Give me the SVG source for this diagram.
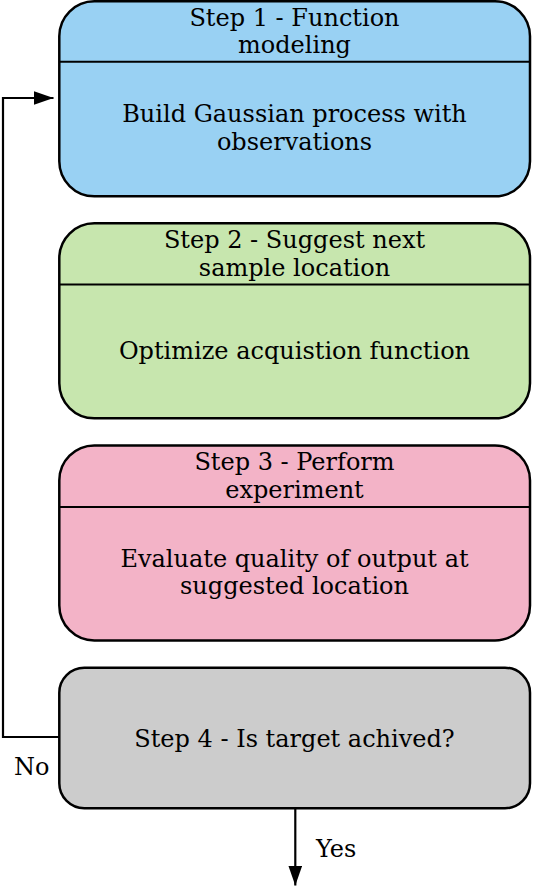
<svg xmlns="http://www.w3.org/2000/svg" width="534" height="886" viewBox="0 0 534 886">
<defs>
<style>
.box{stroke:#000;stroke-width:2.5}
.div{stroke:#000;stroke-width:2}
.t{font-family:"DejaVu Serif","Liberation Serif",serif;font-size:24px;fill:#000;text-anchor:middle}
.lbl{font-family:"DejaVu Serif","Liberation Serif",serif;font-size:24px;fill:#000}
.conn{fill:none;stroke:#000;stroke-width:2.2}
</style>
<marker id="arr" markerUnits="userSpaceOnUse" markerWidth="20" markerHeight="14" refX="20" refY="7" orient="auto">
<path d="M0,0 L20,7 L0,14 z" fill="#000"/>
</marker>
</defs>
<rect width="534" height="886" fill="#fff"/>
<g id="connectors">
<path class="conn" d="M59,737 H3 V98 H53.5" marker-end="url(#arr)"/>
<path class="conn" d="M295.3,808.3 V885.5" marker-end="url(#arr)"/>
<text class="lbl" x="14" y="775">No</text>
<text class="lbl" x="316" y="857.3">Yes</text>
</g>
<g id="step1">
<rect class="box" x="59.3" y="1.3" width="470.7" height="195" rx="35" ry="35" fill="#99d1f3"/>
<line class="div" x1="59.3" y1="61.7" x2="530" y2="61.7"/>
<text class="t" x="294.5" y="25.7">Step 1 - Function</text>
<text class="t" x="294.5" y="53.3">modeling</text>
<text class="t" x="294.5" y="122.3">Build Gaussian process with</text>
<text class="t" x="294.5" y="150">observations</text>
</g>
<g id="step2">
<rect class="box" x="59.3" y="223.3" width="470.7" height="195" rx="35" ry="35" fill="#c7e6ae"/>
<line class="div" x1="59.3" y1="284.5" x2="530" y2="284.5"/>
<text class="t" x="294.5" y="248">Step 2 - Suggest next</text>
<text class="t" x="294.5" y="275.6">sample location</text>
<text class="t" x="294.5" y="359">Optimize acquistion function</text>
</g>
<g id="step3">
<rect class="box" x="59.3" y="445.4" width="470.7" height="195" rx="35" ry="35" fill="#f3b3c7"/>
<line class="div" x1="59.3" y1="507" x2="530" y2="507"/>
<text class="t" x="294.5" y="470.1">Step 3 - Perform</text>
<text class="t" x="294.5" y="497.7">experiment</text>
<text class="t" x="294.5" y="566.7">Evaluate quality of output at</text>
<text class="t" x="294.5" y="594.4">suggested location</text>
</g>
<g id="step4">
<rect class="box" x="59.3" y="667.7" width="470.7" height="140.6" rx="25" ry="25" fill="#cccccc"/>
<text class="t" x="294.5" y="747.3">Step 4 - Is target achived?</text>
</g>
</svg>
